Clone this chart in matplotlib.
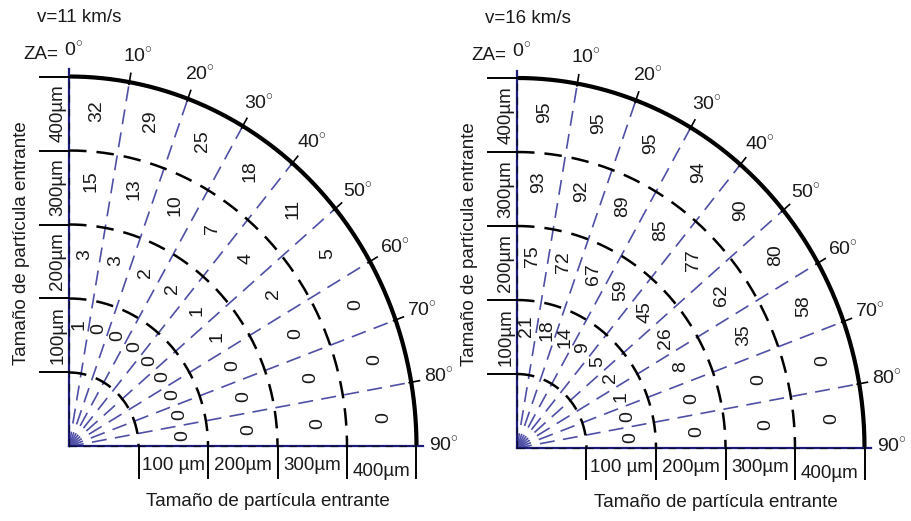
import numpy as np
import matplotlib.pyplot as plt

plt.rcParams['font.family'] = ['Liberation Sans', 'DejaVu Sans']
plt.rcParams['mathtext.fontset'] = 'custom'
plt.rcParams['mathtext.rm'] = 'Liberation Sans'

# zenith angles (deg) of the sector boundaries, sizes of the rings
ZA = [0, 10, 20, 30, 40, 50, 60, 70, 80, 90]
SIZE_H = ['100 µm', '200µm', '300µm', '400µm']
SIZE_V = ['100µm', '200µm', '300µm', '400µm']
AXIS_TITLE = 'Tamaño de partícula entrante'

# values per ring (100, 200, 300, 400 µm), one per 10° sector of ZA
V11_100 = [1, 0, 0, 0, 0, 0, 0, 0, 0]
V11_200 = [3, 3, 2, 2, 1, 1, 0, 0, 0]
V11_300 = [15, 13, 10, 7, 4, 2, 0, 0, 0]
V11_400 = [32, 29, 25, 18, 11, 5, 0, 0, 0]

V16_100 = [21, 18, 14, 9, 5, 2, 1, 0, 0]
V16_200 = [75, 72, 67, 59, 45, 26, 8, 0, 0]
V16_300 = [93, 92, 89, 85, 77, 62, 35, 0, 0]
V16_400 = [95, 95, 95, 94, 90, 80, 58, 0, 0]

BLUE = '#4f4fa6'
NAVY = '#1c1c78'
INK = '#1a1a1a'
RING_MID = [1.65, 2.6, 3.6, 4.55]


def polar(r, deg):
    t = np.radians(deg)
    return r * np.sin(t), r * np.cos(t)


def draw_panel(ax, title, rows, xlim, ylim):
    ax.set_xlim(*xlim)
    ax.set_ylim(*ylim)
    ax.axis('off')

    # radial sector lines
    for a in ZA[1:-1]:
        x, y = polar(np.array([0, 5]), a)
        ax.plot(x, y, color=BLUE, lw=1.2, dashes=(9, 5))
        x, y = polar(np.array([4.97, 5.12]), a)
        ax.plot(x, y, color='black', lw=1.2)

    # size rings
    t = np.linspace(0, 90, 200)
    for r in range(1, 5):
        x, y = polar(r, t)
        ax.plot(x, y, color='black', lw=1.8, dashes=(7, 4))
    x, y = polar(5, t)
    ax.plot(x, y, color='black', lw=3, solid_capstyle='butt')

    # axes along 0° and 90°
    ax.plot([0, 0], [0, 5.1], color=NAVY, lw=1.6)
    ax.plot([0, 5.1], [0, 0], color=NAVY, lw=1.6)
    ax.plot([0, 0], [0, 5], color='black', lw=0.9, dashes=(6, 5), alpha=0.6)
    ax.plot([0, 5], [0, 0], color='black', lw=0.9, dashes=(6, 5), alpha=0.6)

    for k in range(1, 6):
        ax.plot([-0.42, 0], [k, k], color='black', lw=1.4)
        ax.plot([k, k], [-0.42, 0], color='black', lw=1.4)

    for k, lab in enumerate(SIZE_H):
        ax.text(k + 1.5, -0.26 - (0.08 if k == 3 else 0), lab, ha='center',
                va='center', fontsize=13.5, color=INK)
    for k, lab in enumerate(SIZE_V):
        ax.text(-0.16, k + 1.5, lab, ha='center', va='center',
                rotation=90, fontsize=13.5, color=INK)

    # angle labels
    for a in ZA:
        x, y = polar(5.34, a)
        ax.text(x + 0.06, y + 0.02, f'{a}$^{{\\circ}}$', ha='center',
                va='center', fontsize=14, color=INK)
    ax.text(-0.15, 5.3, 'ZA=', ha='right', va='center', fontsize=13.5,
            color=INK)

    # cell values
    for r, vals in zip(RING_MID, rows):
        for i, v in enumerate(vals):
            x, y = polar(r, ZA[i] + 5)
            ax.text(x, y, str(v), ha='center', va='center', rotation=90,
                    fontsize=14, color=INK)

    ax.text(-0.46, 5.8, title, ha='left', va='center', fontsize=13.5,
            color=INK)
    ax.text(-0.68, 2.75, AXIS_TITLE, ha='center', va='center', rotation=90,
            fontsize=13.5, color=INK)
    ax.text(2.86, -0.74, AXIS_TITLE, ha='center', va='center', fontsize=13.5,
            color=INK)


fig = plt.figure(figsize=(9.11, 5.21), dpi=100)
ax1 = fig.add_axes([0, 0, 455 / 911, 1])
ax2 = fig.add_axes([455 / 911, 0, 456 / 911, 1])

draw_panel(ax1, 'v=11 km/s', [V11_100, V11_200, V11_300, V11_400],
           (-0.993, 5.554), (-1.007, 6.034))
draw_panel(ax2, 'v=16 km/s', [V16_100, V16_200, V16_300, V16_400],
           (-0.892, 5.669), (-0.986, 6.054))

fig.savefig('out.png', dpi=100)
